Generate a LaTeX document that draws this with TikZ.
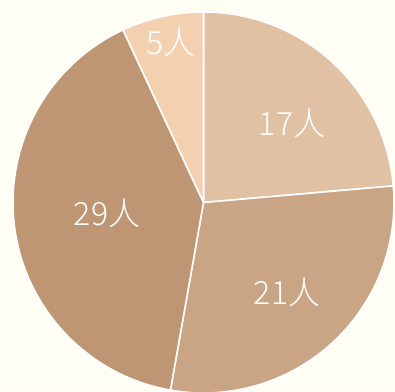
\documentclass[tikz,border=0pt]{standalone}
\usepackage{fontspec}
\usepackage{tikz}
\newfontfamily\cjk{Noto Sans CJK SC Light}
\definecolor{bgcream}{HTML}{FFFEF4}
\definecolor{sliceA}{HTML}{E0C1A3}
\definecolor{sliceB}{HTML}{C9A586}
\definecolor{sliceC}{HTML}{BE9674}
\definecolor{sliceD}{HTML}{F3D0AF}

\begin{document}
\begin{tikzpicture}[x=1pt,y=1pt]
  \tikzstyle{slice}=[draw=white,line width=1.6pt,line join=round]
  \tikzstyle{count}=[text=white,font=\cjk\fontsize{32}{32}\selectfont,inner sep=0pt]

  \fill[bgcream] (0,0) rectangle (395,391);
  \useasboundingbox (0,0) rectangle (395,391);
  \coordinate (O) at (203.5,188.5);

  \begin{scope}
  \clip (0,0) rectangle (395,391);
  \filldraw[slice,fill=sliceA] (O) -- ++(90:190.5) arc (90:5:190.5) -- cycle;
  \filldraw[slice,fill=sliceB] (O) -- ++(5:190.5) arc (5:-100:190.5) -- cycle;
  \filldraw[slice,fill=sliceC] (O) -- ++(-100:190.5) arc (-100:-245:190.5) -- cycle;
  \filldraw[slice,fill=sliceD] (O) -- ++(115:190.5) arc (115:90:190.5) -- cycle;
  \end{scope}

  \node[count] (a) at (292,268) {17人};
  \node[count] (b) at (287,99) {21人};
  \node[count] (c) at (107,178) {29人};
  \node[count] (d) at (171,349) {5人};
\end{tikzpicture}
\end{document}
